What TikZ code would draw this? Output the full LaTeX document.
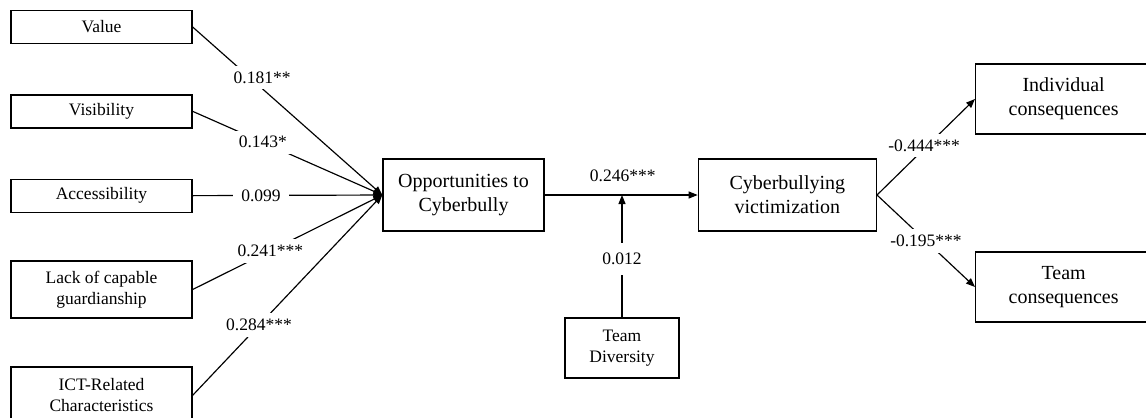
\documentclass[tikz,border=0pt]{standalone}
\usepackage{fontspec}
\setmainfont{Liberation Serif}
\usetikzlibrary{arrows.meta, positioning}

\begin{document}
\begin{tikzpicture}[x=0.6pt, y=-0.6pt,
      font=\fontsize{10.5}{12.6}\selectfont,
      src/.style={draw, line width=0.8pt, align=center, inner sep=1pt,
                  minimum width=108.6pt, minimum height=19.8pt},
      srctwo/.style={src, minimum height=34.2pt},
      core/.style={draw, line width=0.8pt, align=center, inner sep=1pt,
                   font=\fontsize{12}{14.4}\selectfont,
                   minimum width=96.6pt, minimum height=43.2pt},
      outc/.style={core, minimum width=105.6pt, minimum height=42pt, anchor=west},
      coef/.style={fill=white, inner xsep=5pt, inner ysep=3.5pt},
      arrow/.style={-{Triangle[length=5.4pt, width=4.2pt]}, line width=0.7pt} ]

    \clip (0,0) rectangle (1146,417);

    % antecedents
    \node[src] (val) at (101.5,27) {Value};
    \node[src, below=30pt of val] (vis) {Visibility};
    \node[src, below=30pt of vis] (acc) {Accessibility};
    \node[srctwo, below=28.5pt of acc] (lcg) {Lack of capable\\ guardianship};
    \node[srctwo, below=28.5pt of lcg] (ict) {ICT-Related\\ Characteristics};

    % mediator chain
    \node[core] (opp) at (463.5,195) {Opportunities to\\ Cyberbully};
    \node[core, minimum width=106.8pt, right=91.8pt of opp] (cv) {Cyberbullying\\ victimization};
    \node[src, minimum width=68.4pt, minimum height=36pt] (td) at (622,348) {Team\\ Diversity};

    % outcomes
    \node[outc] (ind) at (975,99) {Individual\\ consequences};
    \node[outc] (tc) at (975,287) {Team\\ consequences};

    \coordinate (mod) at (td.north |- opp.east);

    \draw[arrow] (val.east) -- node[coef, pos=0.34, xshift=3pt, yshift=4pt] (c1) {0.181**} (opp.west);
    \draw[arrow] (vis.east) -- node[coef, pos=0.37] (c2) {0.143*} (opp.west);
    \draw[arrow] (acc.east) -- node[coef, pos=0.36] (c3) {0.099} (opp.west);
    \draw[arrow] (lcg.east) -- node[coef, pos=0.41] (c4) {0.241***} (opp.west);
    \draw[arrow] (ict.east) -- node[coef, pos=0.35] (c5) {0.284***} (opp.west);

    \draw[arrow] (opp) -- node[above=4pt, pos=0.51] (c6) {0.246***} (cv);
    \draw[arrow] (td) -- node[coef, inner ysep=6pt, pos=0.48] (c7) {0.012} (mod);

    \draw[arrow] (cv.east) -- node[coef, pos=0.48, yshift=2pt] (c8) {-0.444***} (ind.west);
    \draw[arrow] (cv.east) -- node[coef, pos=0.5] (c9) {-0.195***} (tc.west);
  \end{tikzpicture}
\end{document}
